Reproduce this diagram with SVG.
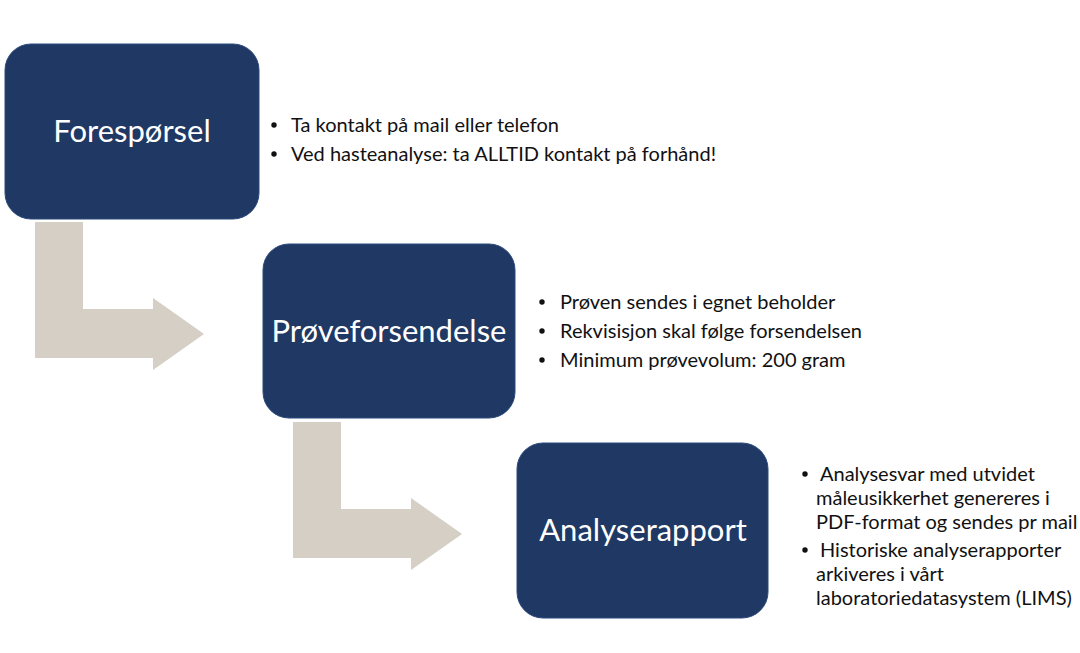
<svg xmlns="http://www.w3.org/2000/svg" width="1080" height="653" viewBox="0 0 1080 653">
<style>
.box{fill:#1f3864;stroke:#2c4a7c;stroke-width:1}
.title{font-family:Lato,"Open Sans",sans-serif;font-size:31px;fill:#ffffff;text-anchor:middle}
.txt{font-family:Lato,"Open Sans",sans-serif;font-size:20px;fill:#111111}
.arrow{fill:#d5cfc5}
</style>
<rect width="1080" height="653" fill="#ffffff"/>
<g id="connectors">
<path class="arrow" d="M35,222 H83 V309 H153 V298 L204,334 L153,370 V358 H35 Z"/>
<path class="arrow" d="M293,422 H341 V509 H411 V498 L462,534 L411,570 V558 H293 Z"/>
</g>
<g id="node-foresporsel">
<rect class="box" x="5" y="44" width="254" height="175" rx="26"/>
<text class="title" x="132" y="142">Forespørsel</text>
</g>
<g id="text-foresporsel">
<circle cx="274" cy="125" r="2.7" fill="#111"/>
<text class="txt" x="291" y="132">Ta kontakt på mail eller telefon</text>
<circle cx="274" cy="154" r="2.7" fill="#111"/>
<text class="txt" x="291" y="161">Ved hasteanalyse: ta ALLTID kontakt på forhånd!</text>
</g>
<g id="node-proveforsendelse">
<rect class="box" x="263" y="244" width="252" height="174" rx="26"/>
<text class="title" x="389" y="342">Prøveforsendelse</text>
</g>
<g id="text-proveforsendelse">
<circle cx="542" cy="302" r="2.7" fill="#111"/>
<text class="txt" x="560" y="309">Prøven sendes i egnet beholder</text>
<circle cx="542" cy="331" r="2.7" fill="#111"/>
<text class="txt" x="560" y="338">Rekvisisjon skal følge forsendelsen</text>
<circle cx="542" cy="360" r="2.7" fill="#111"/>
<text class="txt" x="560" y="367">Minimum prøvevolum: 200 gram</text>
</g>
<g id="node-analyserapport">
<rect class="box" x="517" y="443" width="251" height="175" rx="26"/>
<text class="title" x="643" y="541">Analyserapport</text>
</g>
<g id="text-analyserapport">
<circle cx="805" cy="474" r="2.7" fill="#111"/>
<text class="txt" x="820" y="481">Analysesvar med utvidet</text>
<text class="txt" x="816" y="505">måleusikkerhet genereres i</text>
<text class="txt" x="816" y="529">PDF-format og sendes pr mail</text>
<circle cx="805" cy="550" r="2.7" fill="#111"/>
<text class="txt" x="820" y="557">Historiske analyserapporter</text>
<text class="txt" x="816" y="581">arkiveres i vårt</text>
<text class="txt" x="816" y="605">laboratoriedatasystem (LIMS)</text>
</g>
</svg>
